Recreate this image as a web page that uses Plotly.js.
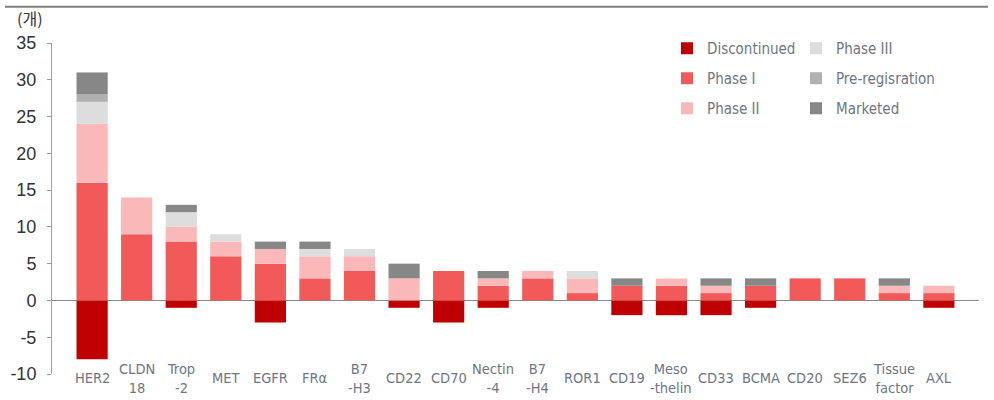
<!DOCTYPE html>
<html>
<head>
<meta charset="utf-8">
<script src="https://cdn.plot.ly/plotly-3.0.1.min.js"></script>
<style>
  html, body { margin: 0; padding: 0; background: #ffffff; }
  #chart { width: 994px; height: 400px; }
</style>
</head>
<body>
<div id="chart"></div>
<script>
// ADC pipeline by target antigen: number of programs per development stage
const categories = ['HER2', 'CLDN18', 'Trop-2', 'MET', 'EGFR', 'FRα', 'B7-H3', 'CD22', 'CD70', 'Nectin-4',
                    'B7-H4', 'ROR1', 'CD19', 'Mesothelin', 'CD33', 'BCMA', 'CD20', 'SEZ6', 'Tissue factor', 'AXL'];
const tickLabels = ['HER2', 'CLDN<br>18', 'Trop<br>-2', 'MET', 'EGFR', 'FRα', 'B7<br>-H3', 'CD22', 'CD70', 'Nectin<br>-4',
                    'B7<br>-H4', 'ROR1', 'CD19', 'Meso<br>-thelin', 'CD33', 'BCMA', 'CD20', 'SEZ6', 'Tissue<br>factor', 'AXL'];

const discontinued = [-8, 0, -1, 0, -3, 0, 0, -1, -3, -1, 0, 0, -2, -2, -2, -1, 0, 0, 0, -1];
const phase1       = [16, 9, 8, 6, 5, 3, 4, 0, 4, 2, 3, 1, 2, 2, 1, 2, 3, 3, 1, 1];
const phase2       = [8, 5, 2, 2, 2, 3, 2, 3, 0, 1, 1, 2, 0, 1, 1, 0, 0, 0, 1, 1];
const phase3       = [3, 0, 2, 1, 0, 1, 1, 0, 0, 0, 0, 1, 0, 0, 0, 0, 0, 0, 0, 0];
const preReg       = [1, 0, 0, 0, 0, 0, 0, 0, 0, 0, 0, 0, 0, 0, 0, 0, 0, 0, 0, 0];
const marketed     = [3, 0, 1, 0, 1, 1, 0, 2, 0, 1, 0, 0, 1, 0, 1, 1, 0, 0, 1, 0];

const yTicks = [35, 30, 25, 20, 15, 10, 5, 0, -5, -10];

const series = [
  { name: 'Discontinued',    values: discontinued, color: '#c00000', legend: 'legend'  },
  { name: 'Phase I',         values: phase1,       color: '#f25a5a', legend: 'legend'  },
  { name: 'Phase II',        values: phase2,       color: '#fbb8b8', legend: 'legend'  },
  { name: 'Phase III',       values: phase3,       color: '#dcdddc', legend: 'legend2' },
  { name: 'Pre-regisration', values: preReg,       color: '#b1b1b1', legend: 'legend2' },
  { name: 'Marketed',        values: marketed,     color: '#878787', legend: 'legend2' }
];

const traces = series.map((s, i) => ({
  type: 'bar',
  name: s.name,
  x: categories,
  y: s.values,
  marker: { color: s.color },
  legend: s.legend,
  legendgroup: 'g' + i,
  hoverinfo: 'x+y+name'
}));

const W = 994, H = 400;
const M = { l: 52, r: 15, t: 43, autoexpand: false };
const yRange = [-10, 35];
const plotH = 45 * 7.35;
M.b = H - M.t - plotH;
const plotW = W - M.l - M.r;

const condensed = 'DejaVu Sans Condensed, DejaVu Sans, sans-serif';
const labelFont = { family: condensed, stretch: 'condensed', size: 14.5, color: '#6e7682' };
const legendFont = { family: condensed, stretch: 'condensed', size: 15, color: '#6e7682' };

// category labels centred under each bar
const labelAnnotations = categories.map((c, i) => ({
  x: c, xref: 'x',
  y: -(378 - (M.t + plotH)) / plotH, yref: 'paper',
  yanchor: 'middle', xanchor: 'center',
  text: tickLabels[i],
  showarrow: false,
  font: labelFont
}));

const layout = {
  width: W, height: H,
  margin: M,
  paper_bgcolor: '#ffffff',
  plot_bgcolor: '#ffffff',
  barmode: 'relative',
  bargap: 0.3,
  showlegend: true,
  legend: {
    xref: 'container', yref: 'container',
    x: 667 / W, y: 1 - 32 / H, xanchor: 'left', yanchor: 'top',
    orientation: 'v', traceorder: 'grouped', tracegroupgap: 7.5,
    font: legendFont, bgcolor: 'rgba(0,0,0,0)'
  },
  legend2: {
    xref: 'container', yref: 'container',
    x: 796 / W, y: 1 - 32 / H, xanchor: 'left', yanchor: 'top',
    orientation: 'v', traceorder: 'grouped', tracegroupgap: 7.5,
    font: legendFont, bgcolor: 'rgba(0,0,0,0)'
  },
  xaxis: {
    type: 'category',
    range: [-0.9, categories.length - 0.1],
    showticklabels: false,
    ticks: '',
    showline: false,
    showgrid: false,
    zeroline: false,
    fixedrange: true
  },
  yaxis: {
    range: yRange,
    tickvals: yTicks,
    ticktext: yTicks.map(String),
    ticks: 'outside',
    ticklen: 4,
    tickwidth: 1,
    tickcolor: '#9a9a9a',
    ticklabelstandoff: 7,
    showline: true,
    linecolor: '#a0a0a0',
    linewidth: 1,
    showgrid: false,
    zeroline: true,
    zerolinecolor: '#8a8a8a',
    zerolinewidth: 1,
    layer: 'above traces',
    tickfont: { family: 'Liberation Sans, Arial, sans-serif', size: 18, color: '#333333' },
    fixedrange: true
  },
  annotations: labelAnnotations.concat([{
    xref: 'paper', yref: 'paper',
    x: (15 - M.l) / plotW, y: 1 + (M.t - 18) / plotH,
    xanchor: 'left', yanchor: 'middle',
    text: '(개)', showarrow: false,
    font: { family: 'Noto Sans CJK KR, sans-serif', size: 16, color: '#333333' }
  }]),
  shapes: [{
    type: 'line', xref: 'paper', yref: 'paper',
    x0: (5 - M.l) / plotW, x1: (988 - M.l) / plotW,
    y0: 1 + (M.t - 6.7) / plotH, y1: 1 + (M.t - 6.7) / plotH,
    line: { color: '#808080', width: 2 }
  }]
};

Plotly.newPlot('chart', traces, layout, { displayModeBar: false, staticPlot: true });
</script>
</body>
</html>
